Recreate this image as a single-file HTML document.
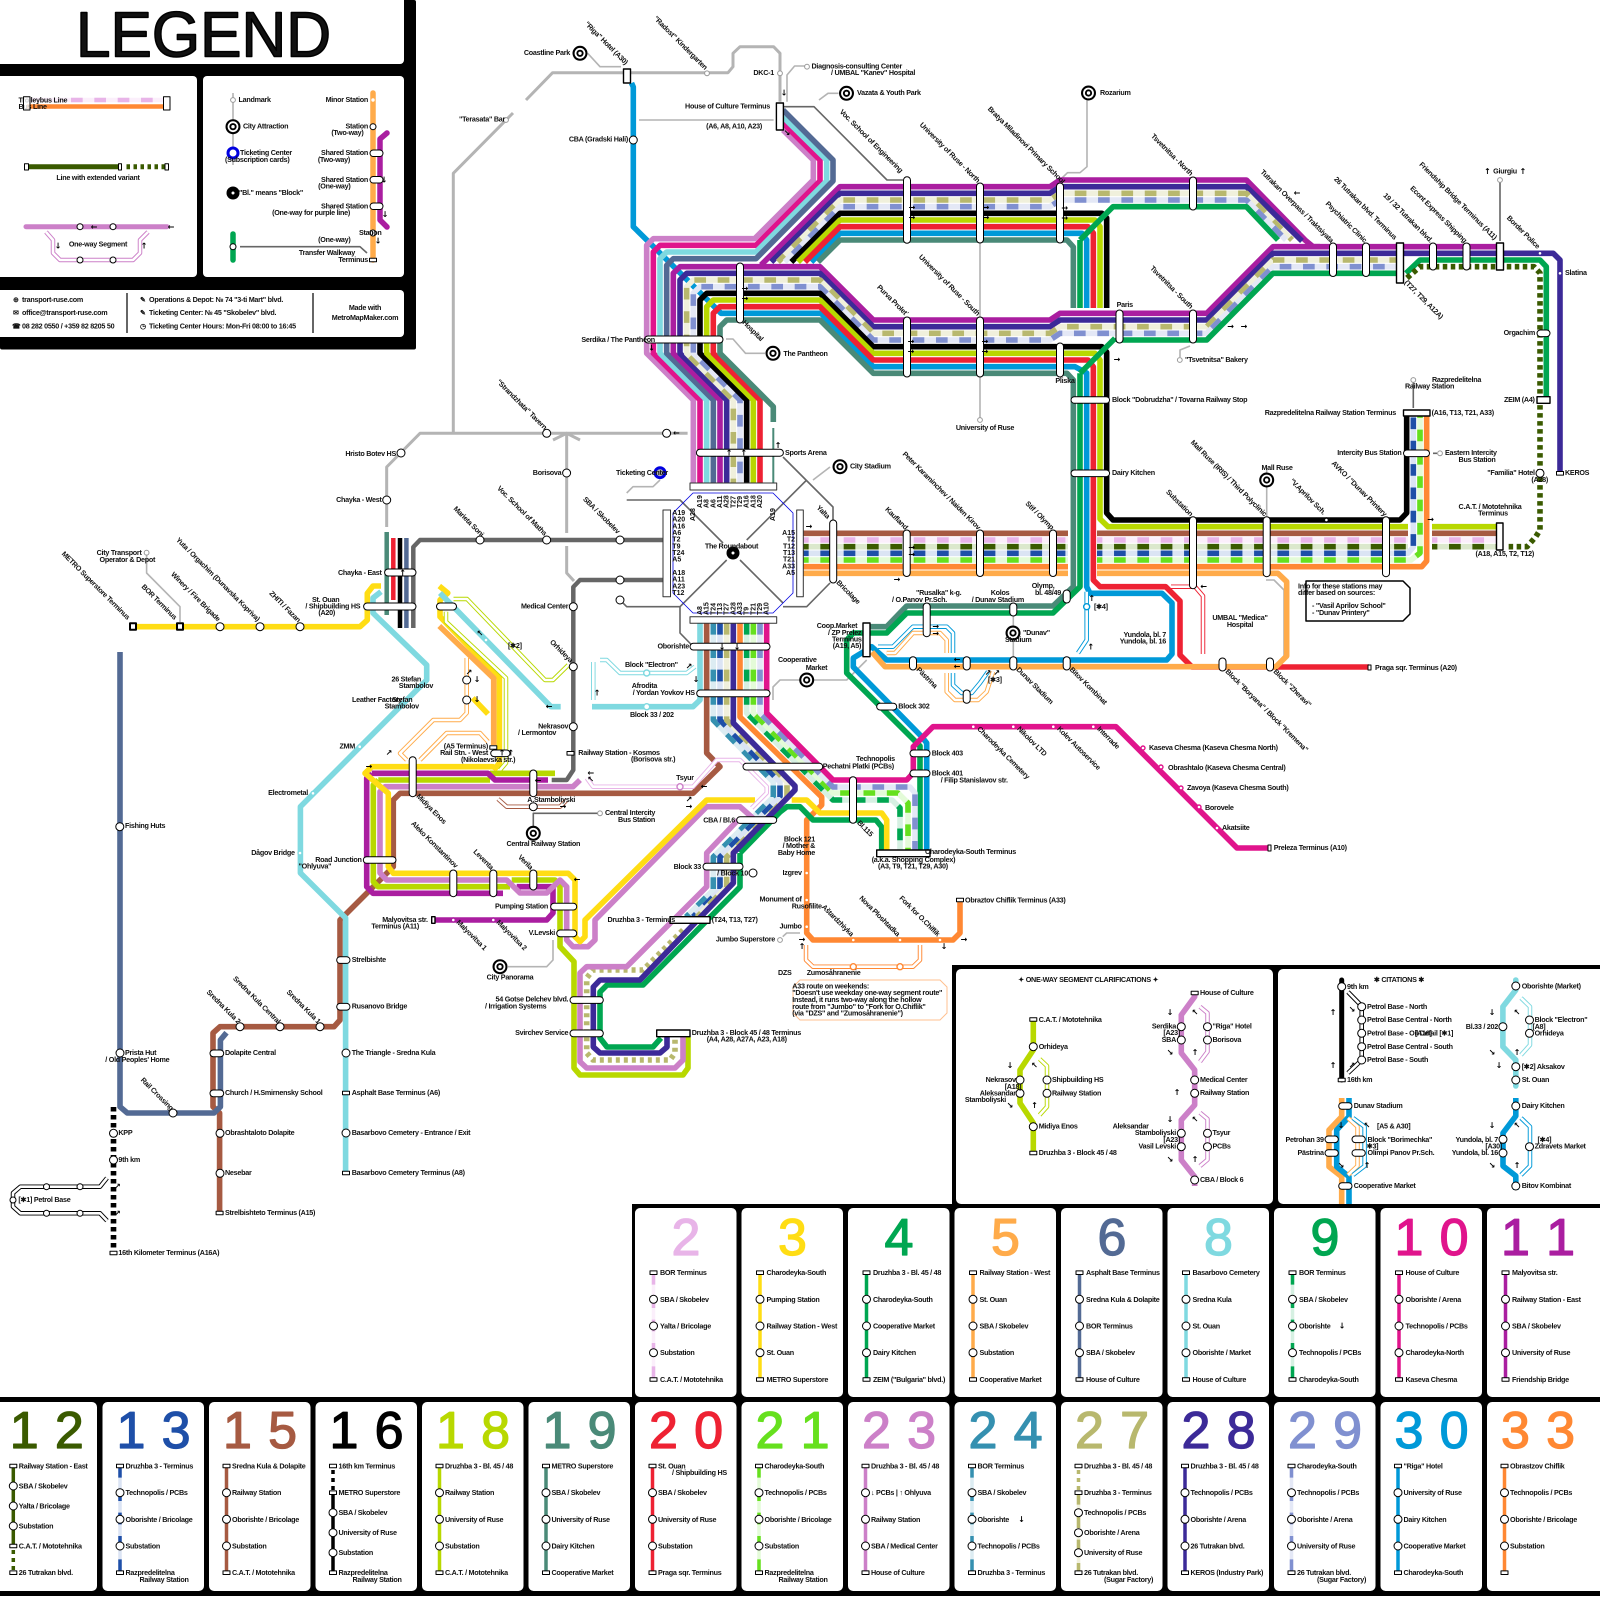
<!DOCTYPE html>
<html><head><meta charset="utf-8"><style>
html,body{margin:0;padding:0;background:#fff}
svg{display:block}
text{font:bold 7.2px "Liberation Sans",sans-serif;fill:#111;stroke:none;letter-spacing:-.27px}
.e{text-anchor:end}.m{text-anchor:middle}
.r{font-weight:bold;font-size:7px;letter-spacing:0}
.big{font-size:52px;font-weight:normal;text-anchor:middle;fill:currentColor;stroke:currentColor;stroke-width:1.3;letter-spacing:0}
.ar{font:bold 8px "DejaVu Sans",sans-serif;text-anchor:middle;fill:#000;letter-spacing:0}
.l path,path{fill:none}
.a2{stroke:#e8b4e8}.a3{stroke:#ffdd14}.a4{stroke:#00a651}.a5{stroke:#ffab4a}.a6{stroke:#536a94}.a8{stroke:#7fd9e0}.a9{stroke:#00a651}.a10{stroke:#e0148c}.a11{stroke:#aa1ea0}.a12{stroke:#3a5a00}.a13{stroke:#1e4fa8}.a15{stroke:#a65a42}.a16{stroke:#000}.a18{stroke:#b8d800}.a19{stroke:#4a8a78}.a20{stroke:#ee2233}.a21{stroke:#66e01e}.a23{stroke:#cc80c8}.a24{stroke:#3590b0}.a27{stroke:#b8b86e}.a28{stroke:#3c2a98}.a29{stroke:#8090d0}.a30{stroke:#0099d8}.a33{stroke:#ff8833}.g{stroke:#b4b4b4}.dg{stroke:#666}
.d{stroke-dasharray:11.67 11.67}
.b2{stroke:#fbeffb}.b9{stroke:#d6f0e2}.b12{stroke:#dbe8cc}.b13{stroke:#dbe4f4}.b21{stroke:#e4fbd8}.b24{stroke:#dcecf2}.b27{stroke:#f0f0dc}.b29{stroke:#e4e8f6}
.h{stroke-width:4.5}.hw{stroke:#fff;stroke-width:2.6}
.t1{stroke-width:1.6}.t2{stroke-width:2.2}
.c{fill:#fff;stroke:#000;stroke-width:1}
.t{fill:#fff;stroke:#000;stroke-width:1.4}
.o1{stroke-dashoffset:6.3}
</style></head><body>
<svg xmlns="http://www.w3.org/2000/svg" width="1600" height="1600" viewBox="0 0 1600 1600" fill="none" stroke-width="5.6" stroke-linejoin="round">
<defs>
<circle id="s" r="4" fill="#fff" stroke="#000" stroke-width="1"/>
<circle id="sm" r="3" fill="#fff" stroke="#000" stroke-width="1"/>
<circle id="lm" r="2.4" fill="#fff" stroke="#999" stroke-width="1"/>
<g id="tg"><circle r="7.5" fill="#000"/><circle r="5.4" fill="#fff"/><circle r="3.6" fill="#000"/><circle r="1.7" fill="#fff"/></g>
<rect id="tm" x="-3.5" y="-1.8" width="7" height="3.6" fill="#fff" stroke="#000" stroke-width="1"/>
<path id="p27a" d="M733.33 483V400L686.67 353.3V286.67L693.3 280H820L873.3 333.3H1050L1060 326.67H1206.7L1273 260H1400"/>
<path id="p29a" d="M740 483V400L693.3 353.3V293.3L700 286.67H820L873.3 340H1050L1060 333.3H1206.7L1273 266.67H1400"/>
<path id="p27b" d="M778 262L840 200H1050L1060 193.3H1246.4L1292 240"/>
<path id="p29b" d="M784.7 262L840 206.67H1050L1060 200H1246.4L1286 240"/>
<path id="p24" d="M713.3 623V720L773.3 782V797L713.3 857V890L686 917"/>
<path id="p13" d="M720 623V720L780 782V797L720 857V890L693 917"/>
<path id="p27c" d="M726.67 623V720L787 782V797L726.67 857V887L697 917"/>
<path id="p9" d="M746.67 623V713L833 800H892L900 808V850"/>
<path id="p21" d="M753.33 623V713L833 793H898L908 803V850"/>
<path id="p29c" d="M760 623V713L833 787H910L915 793V850"/>
<path id="h2a" d="M803.3 540H1068M1097 540H1408M1432 540H1499"/>
<path id="h12" d="M803.3 546.67H1068M1097 546.67H1408M1432 546.67H1499"/>
<path id="h13" d="M803.3 553.33H1068M1097 553.33H1408L1413.33 547V416"/>
<path id="h21" d="M803.3 560H1068M1097 560H1411L1420 553V416"/>
<g id="r1"><use href="#tm" x="18.5" y="1272.7"/><use href="#s" x="18.5" y="1299.3"/><use href="#s" x="18.5" y="1326"/><use href="#s" x="18.5" y="1352.7"/><use href="#tm" x="18.5" y="1379.5"/></g>
<g id="r2"><use href="#tm" x="17.5" y="1466"/><use href="#s" x="17.5" y="1492.7"/><use href="#s" x="17.5" y="1519.3"/><use href="#s" x="17.5" y="1546"/><use href="#tm" x="17.5" y="1572.7"/></g>
<g id="r3"><use href="#tm" x="17.5" y="1466"/><use href="#tm" x="17.5" y="1492.7"/><use href="#s" x="17.5" y="1512.7"/><use href="#s" x="17.5" y="1532.7"/><use href="#s" x="17.5" y="1552.7"/><use href="#tm" x="17.5" y="1572.7"/></g>
</defs>

<!-- Legend frame -->
<rect x="0" y="0" width="416" height="349.5" rx="2" fill="#000"/>
<rect x="-6" y="-6" width="410" height="70" rx="4" fill="#fff"/>
<rect x="-6" y="76" width="203" height="201" rx="4" fill="#fff"/>
<rect x="203" y="76" width="201" height="201" rx="4" fill="#fff"/>
<rect x="-6" y="290" width="410" height="47" rx="4" fill="#fff"/>
<text x="76" y="56.5" textLength="255" lengthAdjust="spacingAndGlyphs" style="font-size:64px;font-weight:normal;stroke:#000;stroke-width:1.6;letter-spacing:0">LEGEND</text>

<path class="b2 h" d="M27 100H165"/><path class="a2 h d" d="M71 100H155"/>
<path stroke="#ff8833" stroke-width="4.5" d="M27 106.5H165"/>
<text x="18.5" y="102.3">Trolleybus Line</text><text x="18.5" y="108.8">Bus Line</text>
<rect x="23.5" y="96.7" width="6.5" height="13.3" class="c" fill-opacity=".8"/><rect x="163.5" y="96.7" width="6.5" height="13.3" class="c"/>
<path class="a12" stroke-width="5" d="M27 166.7H120"/><path class="a12" stroke-width="5" stroke-dasharray="3.5 3.5" d="M126.5 166.7H165"/>
<rect x="24.5" y="163.7" width="4" height="6.3" class="c"/><rect x="118.5" y="163.7" width="3" height="6.3" class="c"/><rect x="165" y="163.7" width="3.5" height="6.3" class="c"/>
<text x="98" y="180" class="m">Line with extended variant</text>
<path class="a23" stroke-linecap="round" stroke-width="5" d="M26 226.7H167"/>
<path class="a23 h" d="M46 232L53 240V253L60 260H133L140 253V240L148 232"/><path class="hw" d="M46 232L53 240V253L60 260H133L140 253V240L148 232"/>
<use href="#sm" x="80" y="226.7"/><use href="#sm" x="113" y="226.7"/><use href="#sm" x="80" y="260"/><use href="#sm" x="113" y="260"/>
<text x="98" y="246.5" class="m">One-way Segment</text>
<text class="ar" x="94" y="229.5">←</text><text class="ar" x="171" y="229.5">←</text><text class="ar" x="58" y="248.5">↓</text><text class="ar" x="144" y="248.5">↑</text>

<path class="g" stroke-width="1.6" d="M233 93V165"/><use href="#lm" x="233" y="100"/><text x="238.5" y="102">Landmark</text>
<use href="#tg" x="233" y="126.7"/><text x="243" y="128.5">City Attraction</text>
<circle cx="233" cy="153" r="5" fill="#fff" stroke="#0000e0" stroke-width="3"/><text x="240" y="155">Ticketing Center</text><text x="225" y="161.8">(Subscription cards)</text>
<circle cx="233" cy="193" r="6.5" fill="#000"/><circle cx="233" cy="193" r="1.5" fill="#fff"/><text x="239" y="195">"Bl." means "Block"</text>
<path class="a4" stroke-linecap="round" stroke-width="5.5" d="M233 234V260"/><use href="#sm" x="233" y="246.7"/>
<path class="dg t1" d="M240 246.7H360L367 253"/>
<path class="a5" stroke-linecap="round" stroke-width="5.5" d="M373 93V260"/>
<path class="a11" stroke-linecap="round" stroke-width="5.5" d="M387 133L380 139V220L387 227"/>
<circle cx="373" cy="100" r="1.7" fill="#fff"/><use href="#sm" x="373" y="126.7"/>
<rect x="370" y="150" width="13" height="6.5" rx="3.2" class="c"/><rect x="370" y="176.5" width="13" height="6.5" rx="3.2" class="c"/><rect x="370" y="203" width="13" height="6.5" rx="3.2" class="c"/>
<use href="#sm" x="373" y="233"/><use href="#tm" x="373" y="260"/>
<text class="e" x="368" y="102">Minor Station</text><text class="e" x="368" y="128.5">Station</text><text class="e" x="363.5" y="135">(Two-way)</text>
<text class="e" x="368" y="155">Shared Station</text><text class="e" x="350" y="161.8">(Two-way)</text>
<text class="e" x="368" y="181.8">Shared Station</text><text class="e" x="350.5" y="188.5">(One-way)</text>
<text class="e" x="368" y="208.5">Shared Station</text><text class="e" x="350" y="215.2">(One-way for purple line)</text>
<text x="359" y="235">Station</text><text class="e" x="350.5" y="241.8">(One-way)</text>
<text class="e" x="355" y="255">Transfer Walkway</text><text class="e" x="368" y="261.8">Terminus</text>
<text class="ar" x="384" y="182.5">↓</text><text class="ar" x="385" y="217">↓</text><text class="ar" x="378" y="243.5">↓</text>

<path stroke="#000" stroke-width="1.2" d="M127 293V333M313 293V333"/>
<text x="22" y="302">transport-ruse.com</text><text x="22" y="315">office@transport-ruse.com</text><text x="22" y="328.5">08 282 0550 / +359 82 8205 50</text>
<text x="13" y="302" class="r">⊕</text><text x="13" y="315" class="r">✉</text><text x="12" y="328.5" class="r">☎</text>
<text x="149" y="302">Operations &amp; Depot: № 74 "3-ti Mart" blvd.</text><text x="149" y="315">Ticketing Center: № 45 "Skobelev" blvd.</text><text x="149" y="328.5">Ticketing Center Hours: Mon-Fri 08:00 to 16:45</text>
<text x="140" y="302" class="r">✎</text><text x="140" y="315" class="r">✎</text><text x="140" y="328.5" class="r">◷</text>
<text class="m" x="365" y="310">Made with</text><text class="m" x="365" y="320">MetroMapMaker.com</text>

<!-- gray -->
<g class="g" stroke-width="3">
<path d="M526 100L552.6 72.7H728L733 66.7V53.3L740 46.7H773.6L780 53.3V101.7"/>
<path d="M513 113L453.3 173.3V420L453.3 433.3H687.6M453.3 433.3H420L386.67 467V527"/>
<path d="M566.67 433.3V533M566.67 546V573L574 581"/>
<path d="M553 440L566.67 433.3L580 440"/>
</g>
<path class="dg" stroke-width="4.5" d="M413.3 628V547L420 540H663"/>
<path class="dg" stroke-width="4.5" d="M663 580H580L573.3 587V770L566.7 780H551.7"/>
<g class="g t1">
<path d="M587.7 53.3L600 66.7H621M819 100L828 93.3H838.5M639 120H773.6M787 101.7V75L794.6 66H805"/>
<path d="M1087 100V166.7L1080 172.7H1067.5L1062 178"/>
<path d="M980 243V317M980 377V420"/>
<path d="M726 339H733L745.5 353.3H765"/>
<path d="M626.7 493L633 486.7H653L660 480"/>
<path d="M813 480L830 467"/>
<path d="M773 700V687L780 680H846.7L866.7 660"/>
<path d="M146.6 555V573L180 606.7V622"/>
<path d="M508 966.7H546.7L553 960V940"/>
<path d="M782.7 936.7L786.7 933H800"/>
<path d="M1180 357V350L1190 346"/>
<path d="M1266 580H1274L1284 590V656L1276 664"/>
<path d="M1013.3 616V660M1266.7 470V516"/>
</g>
<path class="dg t1" d="M783 106.7H814L887 180H903"/>
<path class="dg t1" d="M783 457L833 507V520M830 583L806.7 606.7H783M626.7 500H680L723 543M746.7 540L806.7 480M726.7 560L680 606.7V633L691.7 645M740 560L783 603M620 600L626.7 606.7H680"/>
<path class="dg t1" d="M1500 180V241M1413.3 380V408M1433 453.3H1437M533.3 833V813.3H600"/>

<!-- blue octagon and A30 first (passes beneath other lines) -->
<path stroke="#0000e0" stroke-width=".8" d="M693 493H773L793 513V593L773 613H693L673 593V513Z"/>
<path class="a30" d="M631.5 83L633.3 87V226.7L721 313.3H821L873.3 366.7H1075L1086.67 373V586.7L1090 593.3H1162L1172 603V654L1166.67 660H886.7L871.7 646.7L853.3 658V667L921.7 736.7L926.7 743V850"/>
<path class="a30" d="M811.3 262L840 233.3H1082L1086.67 240V308"/>

<!-- main bundles -->
<path class="a23" d="M783 130L813.33 160V180L754.6 238.7H653.33L646.67 245.3V353.3L693.33 400V483"/>
<path class="a10" d="M783 123L820 160V181L756 245.3H660L653.33 252V353.3L700 400V483"/>
<path class="a8" d="M783 117L826.67 160V181L756 252H666.67L660 258.7V353.3L706.67 400V483"/>
<path class="a6" d="M783 110L833 160V181L756 258.7H673.3L666.67 265.3V353.3L713.33 400V483"/>
<path class="a11" d="M761 265L840 186.67H1050L1060 180H1246.4L1305 240L1313 246.7H1500"/>
<path class="a28" d="M771.3 262L840 193.3H1050L1060 186.7H1246.4L1302 241"/>
<path class="a11" d="M720 483V400L673.3 353.3V273.3L680 266.7H820L873.3 320H1050L1060 313.3H1206.7L1273 246.7H1320"/>
<path class="a28" d="M726.67 483V400L680 353.3V280L686.67 273.3H820L873.3 326.67H1050L1060 320H1206.7L1273 253.3H1553.3L1560 260V473"/>
<g>
<use href="#p27a" class="b27"/><use href="#p27a" class="a27 d" style="stroke-dashoffset:7.3"/><use href="#p29a" class="b29"/><use href="#p29a" class="a29 d" style="stroke-dashoffset:13.6"/>
<use href="#p27b" class="b27"/><use href="#p27b" class="a27 d" style="stroke-dashoffset:2.3"/><use href="#p29b" class="b29"/><use href="#p29b" class="a29 d" style="stroke-dashoffset:11.8"/>
</g>
<path class="a16" d="M791.3 262L840 213.3H1102L1106.67 218V308"/>
<path class="a18" d="M798 262L840 220H1095L1100 226.7V308"/>
<path class="a20" d="M805 262L840 226.67H1088L1093.33 233V308"/>
<path class="a19" d="M818 262L840 240H1067L1073.33 247V308"/>
<path class="a16" d="M746.67 483V400L700 353.3V300L706.67 293.3H820L873.3 346.67H1102L1106.67 352V513L1113 520H1400L1406.67 513V416"/>
<path class="a18" d="M753.33 483V400L706.67 353.3V306.67L713.3 300H820L873.3 353.3H1095L1100 360V519L1108 526.67H1408M1432 526.67H1499"/>
<path class="a20" d="M760 483V400L713.3 353.3V313.3L720 306.67H820L873.3 360H1088L1093.33 366.7V580L1100 586.67H1165.7L1180 601V655L1192 667H1369"/>
<path class="a19" d="M773.3 422V406.7L720 353.3V326.67L726.67 320H820L873.3 373.3H1067L1073.33 380V586.67L1053 606H906.7L886.7 626.7H870"/>
<path class="a19" stroke-width="2" d="M773.3 428V483"/>
<path class="a4" d="M1080 240L1113 206.7H1246.4L1278 240"/>
<path class="a4" d="M1080 308V240"/>
<path class="a4" d="M1115 338.3L1118 340H1206.7L1273 273.3H1400M1080 373.3L1115 338.3M1080 373.3V586.7L1053 613H906.7L886.7 633H853.3L846.7 640V673L920 746V850"/>
<path class="a4" d="M1406 273.3L1420 260H1540L1546.3 266.7V397"/>
<path class="a12" stroke-dasharray="4.5 3.5" d="M1407 278L1420 266.7H1534L1540 273V530L1535.8 536.7L1527 546.7H1506"/>

<!-- horizontal bundle to east -->
<path class="a15" d="M803.3 533.3H1068M1097 533.3H1408M1432 533.3H1499"/>
<use href="#h2a" class="b2"/><use href="#h2a" class="a2 d o1"/><use href="#h12" class="b12"/><use href="#h12" class="a12 d o1"/><use href="#h13" class="b13"/><use href="#h13" class="a13 d o1"/><use href="#h21" class="b21"/><use href="#h21" class="a21 d o1"/>
<path class="a33" d="M803.3 566.67H1068M1097 566.67H1421.8L1426.67 561V416"/>
<path class="a5" d="M803.3 573.33H1068M1097 573.33H1278L1286.67 581.7V656L1276 666.67H885L872 652"/>

<!-- south of roundabout -->
<path class="a8" d="M700 623V700L693 706.7H592"/>
<path class="a15" d="M706.67 623V753L720 766.67L693 793.3H400L393.3 800V866.7L340 920V1020L334 1026.7H220L213 1033V1106.7L219.6 1113V1213"/>
<use href="#p24" class="b24"/><use href="#p24" class="a24 d"/><use href="#p13" class="b13"/><use href="#p13" class="a13 d"/><use href="#p27c" class="b27"/><use href="#p27c" class="a27 d"/>
<path class="a27" stroke-dasharray="4 4" d="M683 930L643 970H593L586.7 978V1053L593 1060H670L675 1053V1038"/>
<path class="a33" d="M740 623V717L821.7 797V805L806.7 820V933L813 940H953L960 933V900"/>
<use href="#p9" class="b9"/><use href="#p9" class="a9 d"/><use href="#p21" class="b21"/><use href="#p21" class="a21 d"/><use href="#p29c" class="b29"/><use href="#p29c" class="a29 d"/>
<path class="a10" d="M766.67 623V713L833 780H906.7L913.3 773V746.7L933 726.7H1116L1237 848H1268"/>
<path class="a4" d="M740 853L780 812L787 806.7H800L813 820H876L881.7 827V850M740 853V887L643 985H607L600 992V1038L607 1047H653L661 1038"/>
<path class="a28" d="M733.33 623V723L795 786V790L733.33 853V883L640 980H600L593.3 987V1047L600 1053H660L667 1047V1037"/>
<path class="a18" d="M378.3 780H490M490 773.3H555M378.3 780L373.3 785V881.7L378 886.7H510M511.7 880H555L560 886.7V946.7L574 961.7V1068L580 1075H683L688 1068V1037"/>
<path class="a11" d="M371.7 773.3H488L495 780H548M371.7 773.3L366.7 778V886.7L373 893.3H503M516.7 886.7H553V913L546.7 920H433.3"/>
<path class="a23" d="M580 780L573 786.7H385L380 791.7V873L386.7 880H506.7L520 893H546.7L560 880L566.7 886.7V940L573 946.7H588L595 940V920L706.7 806.7H740L755 820"/>
<path class="a23" d="M738 820L706.7 853V886.7L626.7 966.7H586.7L580 973V1061.7L586.7 1068H675L683 1060V1037"/>
<path class="a3" d="M133 626.7H360L367.3 620V593.3L373 586H381M439.3 586L447.8 593L440 600V616.7L499.4 678V763L495.6 768L493 766.7H371.7L365 773.3L388.3 793.3V866.7L393.3 873.3H568.3L575 880V936.7L580 941.7L585 936.7V920L706.7 800H755M791.7 800H806.7L820 813H881.7L886.7 820V850M472.7 698L488 714"/>
<path class="a5" d="M439.3 626L493.7 678.3V745"/>
<path class="a8" d="M381 591.7L373 598V613L426.7 665V680L300.4 806.7V873L345.6 918V1173"/>
<path class="a8" d="M440 593L551 706.7H560.7"/>
<path class="a6" d="M120 652V1106.7L127.3 1113H214L220.4 1106.7V1040L226.5 1032.7"/>
<path class="a16" stroke-dasharray="4.5 3.5" d="M113.5 1107V1252"/>
<path class="a19" stroke-width="4.5" d="M386.7 532V615"/><path class="a20" stroke-width="4.5" d="M393.3 538V600"/><path class="a16" stroke-width="4.5" d="M400 538V628"/><path class="a6" stroke-width="4.5" d="M406.4 538V628"/>

<!-- hollow segments -->
<g class="h">
<path class="a2" d="M586.7 778L593 786.7H693L716.7 760H740L766.7 786.7V793L751.7 808"/>
<path class="a15" d="M498 799L506.7 806.7H560L566.7 800"/>
<path class="a5" d="M466.7 658V713L460 720H433.3L400 753.3L406.7 760M420 760L446.7 733H480L488 741.7"/>
<path class="a18" d="M446 611.7V621.7L506 678V763L500 770M453.5 599H467L545 680H553L568.3 665"/>
<path class="a8" d="M600 660H606.7L620 673H686.7L695 666.7M593.3 662V700"/>
<path class="a30" d="M878 646.7H893L913 626.7H946.7L953 633V653M953 673V685L961.7 693H971.7L980 683L988 671.7"/>
<path class="a5" d="M886.7 653H895L913 633H940L946.7 640V653M946.7 673V691.7L955 700H978L986.7 691.7L993 671.7"/>
<path class="a30" d="M1086.67 591.7V640L1078 653"/>
<path class="a33" d="M806 945V960L813 966.7H913L920 960V945"/>
<path class="a20" d="M1171 586.7H1195L1203 596V654"/>
<path class="a16" d="M107 1178L100 1186.7H20.4L13 1193V1206.7L20.4 1213.3H100L107 1220.7"/>
</g>
<g class="hw">
<path d="M586.7 778L593 786.7H693L716.7 760H740L766.7 786.7V793L751.7 808"/>
<path d="M498 799L506.7 806.7H560L566.7 800"/>
<path d="M466.7 658V713L460 720H433.3L400 753.3L406.7 760M420 760L446.7 733H480L488 741.7"/>
<path d="M446 611.7V621.7L506 678V763L500 770M453.5 599H467L545 680H553L568.3 665"/>
<path d="M600 660H606.7L620 673H686.7L695 666.7M593.3 662V700"/>
<path d="M878 646.7H893L913 626.7H946.7L953 633V653M953 673V685L961.7 693H971.7L980 683L988 671.7"/>
<path d="M886.7 653H895L913 633H940L946.7 640V653M946.7 673V691.7L955 700H978L986.7 691.7L993 671.7"/>
<path d="M1086.67 591.7V640L1078 653"/>
<path d="M806 945V960L813 966.7H913L920 960V945"/>
<path d="M1171 586.7H1195L1203 596V654"/>
<path d="M107 1178L100 1186.7H20.4L13 1193V1206.7L20.4 1213.3H100L107 1220.7"/>
</g>

<!-- boxes -->
<g fill="#fff" stroke="#333" stroke-width="1">
<rect x="690" y="483" width="86.7" height="7"/><rect x="690" y="616.7" width="86.7" height="6.6"/><rect x="663" y="510" width="7.5" height="86.7"/><rect x="796.7" y="510" width="6.6" height="86.7"/>
</g>
<g class="t">
<rect x="623.5" y="69" width="7" height="14"/><rect x="776.4" y="103" width="7" height="27"/><rect x="1396.5" y="243" width="7" height="40"/><rect x="1496.5" y="243" width="7" height="27"/>
<rect x="1403.5" y="410" width="26.5" height="6"/><rect x="1496.5" y="523" width="6.5" height="27"/><rect x="863" y="623" width="7" height="33.7"/><rect x="876.7" y="850" width="53.3" height="6.7"/>
<rect x="670" y="916.7" width="40" height="6.6"/><rect x="656.7" y="1030" width="33.3" height="6.7"/><rect x="431.7" y="916.7" width="3.3" height="6.6"/><rect x="1537" y="396.7" width="13" height="6.6"/>
</g>
<g fill="#fff" stroke="#000" stroke-width="2"><rect x="130" y="623.2" width="6" height="6.6"/><rect x="177" y="623.2" width="6" height="6.6"/></g>
<g class="c">
<rect x="903.5" y="176.7" width="7" height="66.6" rx="3.5"/><rect x="976.5" y="183" width="7" height="60" rx="3.5"/><rect x="1056.5" y="183" width="7" height="60" rx="3.5"/><rect x="1189.5" y="177" width="7" height="33" rx="3.5"/>
<rect x="903.5" y="317" width="7" height="60" rx="3.5"/><rect x="976.5" y="317" width="7" height="60" rx="3.5"/><rect x="1056.5" y="343" width="7" height="34" rx="3.5"/><rect x="1116" y="310" width="7" height="33" rx="3.5"/><rect x="1189.5" y="310" width="7" height="33" rx="3.5"/>
<rect x="736.5" y="263" width="7" height="60" rx="3.5"/>
<rect x="644.5" y="336" width="78.5" height="7" rx="3.5"/><rect x="696.4" y="449.2" width="87" height="7" rx="3.5"/>
<rect x="1329.5" y="243" width="7" height="33.5" rx="3.5"/><rect x="1362.5" y="243" width="7" height="33.5" rx="3.5"/><rect x="1429.5" y="243" width="7" height="27" rx="3.5"/><rect x="1463" y="243" width="7" height="27" rx="3.5"/>
<rect x="1537" y="330" width="13" height="6.6" rx="3.3"/>
<rect x="1071" y="396.7" width="38.6" height="6.6" rx="3.3"/><rect x="1071" y="470" width="38.6" height="6.6" rx="3.3"/><rect x="1403.5" y="450" width="26" height="6.6" rx="3.3"/>
<rect x="829.7" y="520" width="7" height="63" rx="3.5"/><rect x="903.2" y="530" width="7" height="46.5" rx="3.5"/><rect x="976.5" y="530" width="7" height="46.5" rx="3.5"/><rect x="1049.5" y="530" width="7" height="46.5" rx="3.5"/>
<rect x="1189.5" y="516.7" width="7" height="72" rx="3.5"/><rect x="1263.2" y="516.7" width="7" height="60" rx="3.5"/><rect x="1382.5" y="516.7" width="7" height="60" rx="3.5"/>
<rect x="690" y="643.3" width="80" height="6.7" rx="3.3"/><rect x="696.7" y="690" width="73.3" height="6.7" rx="3.3"/><rect x="743" y="763.3" width="79.7" height="6.7" rx="3.3"/><rect x="849.5" y="776.7" width="7" height="46.6" rx="3.5"/>
<rect x="736.7" y="816.7" width="40" height="6.7" rx="3.3"/><rect x="703" y="863.3" width="40" height="6.7" rx="3.3"/>
<rect x="910" y="750" width="20" height="6.7" rx="3.3"/><rect x="910" y="770" width="20" height="6.7" rx="3.3"/><rect x="876.7" y="703.3" width="20" height="6.7" rx="3.3"/>
<rect x="923.2" y="603" width="7" height="33.7" rx="3.5"/><rect x="1009.8" y="603" width="7" height="13" rx="3.5"/><rect x="1063.2" y="590" width="7" height="13" rx="3.5"/>
<rect x="909.5" y="656.7" width="7" height="13.3" rx="3.5"/><rect x="963.2" y="656.7" width="7" height="13.3" rx="3.5"/><rect x="1009.8" y="656.7" width="7" height="13.3" rx="3.5"/><rect x="1063.2" y="656.7" width="7" height="13.3" rx="3.5"/><rect x="963.2" y="690" width="7" height="13.3" rx="3.5"/>
<rect x="1219" y="658" width="7" height="13" rx="3.5"/><rect x="1266.5" y="658" width="7" height="13" rx="3.5"/>
<rect x="384.6" y="569" width="31.4" height="7" rx="3.5"/><rect x="363.6" y="603" width="52.4" height="7" rx="3.5"/><rect x="436.5" y="603" width="20" height="7" rx="3.5"/>
<rect x="490.7" y="750" width="19.3" height="6.6" rx="3.3"/><rect x="409.2" y="756.7" width="7" height="40" rx="3.5"/><rect x="363.3" y="856.7" width="32.7" height="6.6" rx="3.3"/><rect x="529.8" y="770" width="7" height="26.7" rx="3.5"/>
<rect x="449.8" y="870" width="7" height="26.7" rx="3.5"/><rect x="489.8" y="870" width="7" height="26.7" rx="3.5"/><rect x="529.8" y="870" width="7" height="20" rx="3.5"/>
<rect x="550.7" y="903.3" width="26" height="6.7" rx="3.3"/><rect x="556.7" y="930" width="20" height="6.7" rx="3.3"/><rect x="570" y="996.7" width="33.3" height="6.7" rx="3.3"/><rect x="570" y="1030" width="33.3" height="6.7" rx="3.3"/>
<rect x="336.7" y="956.7" width="13.3" height="6.7" rx="3.3"/><rect x="336.7" y="1003.4" width="13.3" height="6.7" rx="3.3"/><rect x="210" y="1050" width="13.7" height="6.7" rx="3.3"/><rect x="210" y="1090" width="13.7" height="6.7" rx="3.3"/>
</g>
<use href="#tm" x="570.5" y="753.3"/><use href="#tm" x="493.3" y="747.5"/><use href="#tm" x="346" y="1093"/><use href="#tm" x="346" y="1173"/><use href="#tm" x="219.6" y="1213"/><use href="#tm" x="113.5" y="1253"/><use href="#tm" x="960" y="900"/><use href="#tm" x="1560" y="473.3"/><rect x="1368" y="665" width="3" height="5" class="c"/><rect x="1268" y="845" width="3" height="6" class="c"/>

<!-- stations -->
<g>
<use href="#s" x="633.3" y="140"/><use href="#lm" x="506" y="120"/><use href="#lm" x="707" y="73.3"/><use href="#lm" x="780" y="73.3"/><use href="#lm" x="807" y="66.7"/><use href="#lm" x="980" y="420"/><use href="#lm" x="1179.8" y="360"/><use href="#lm" x="1413.3" y="380"/><use href="#lm" x="1440" y="453.3"/><use href="#lm" x="1500" y="180"/><use href="#lm" x="146.6" y="552.7"/><use href="#lm" x="780" y="940"/><use href="#lm" x="600" y="813.3"/>
<use href="#s" x="546.7" y="433.3"/><use href="#s" x="666.6" y="433.3"/><use href="#s" x="566.6" y="473"/><use href="#s" x="401" y="453"/><use href="#s" x="386.7" y="500"/>
<use href="#s" x="480" y="540"/><use href="#s" x="546.67" y="540"/><use href="#s" x="620" y="540"/><use href="#s" x="620" y="580"/><use href="#s" x="620" y="600"/>
<use href="#s" x="573.3" y="606.7"/><use href="#s" x="573.3" y="666.7"/><use href="#s" x="573.3" y="726.7"/>
<use href="#s" x="220" y="626.7"/><use href="#s" x="260" y="626.7"/><use href="#s" x="300" y="626.7"/>
<use href="#s" x="119.8" y="826.7"/><use href="#s" x="120" y="1053"/><use href="#s" x="173" y="1113"/><use href="#s" x="240" y="1026.7"/><use href="#s" x="280" y="1026.7"/><use href="#s" x="320" y="1026.7"/><use href="#s" x="220" y="1133.3"/><use href="#s" x="220" y="1173.3"/><use href="#s" x="346" y="1053"/><use href="#s" x="346" y="1133"/>
<use href="#s" x="113.5" y="1133.3"/><use href="#s" x="113.5" y="1160"/><use href="#sm" x="46.5" y="1186.7"/><use href="#sm" x="80" y="1186.7"/><use href="#sm" x="46.5" y="1213.3"/><use href="#sm" x="80" y="1213.3"/><use href="#sm" x="13" y="1200"/>
<use href="#s" x="466.7" y="680"/><use href="#s" x="466.7" y="700"/><use href="#s" x="533.3" y="806.7"/><use href="#s" x="753" y="873"/>
<use href="#s" x="1540" y="473.3"/>
</g>
<g fill="#fff" stroke-width="1.4">
<circle cx="1560" cy="273.3" r="2" stroke="#3c2a98"/><circle cx="1540" cy="253.3" r="2" stroke="#3c2a98"/><circle cx="1326.4" cy="520" r="2" stroke="#000"/>
<circle cx="486" cy="640" r="2" stroke="#7fd9e0"/><circle cx="359.7" cy="746.7" r="2" stroke="#7fd9e0"/><circle cx="313" cy="793.3" r="2" stroke="#7fd9e0"/><circle cx="300" cy="853" r="2" stroke="#7fd9e0"/><circle cx="406" cy="700" r="2" stroke="#7fd9e0"/>
<circle cx="453.3" cy="920" r="2" stroke="#aa1ea0"/><circle cx="493.3" cy="920" r="2" stroke="#aa1ea0"/>
<circle cx="973.3" cy="726.7" r="2" stroke="#e0148c"/><circle cx="1013.3" cy="726.7" r="2" stroke="#e0148c"/><circle cx="1053.3" cy="726.7" r="2" stroke="#e0148c"/><circle cx="1093.3" cy="726.7" r="2" stroke="#e0148c"/><circle cx="1143" cy="748" r="2" stroke="#e0148c"/><circle cx="1161" cy="767" r="2" stroke="#e0148c"/><circle cx="1181" cy="788" r="2" stroke="#e0148c"/><circle cx="1199" cy="807" r="2" stroke="#e0148c"/><circle cx="1217" cy="828" r="2" stroke="#e0148c"/>
<circle cx="806.7" cy="873" r="2" stroke="#ff8833"/><circle cx="806.7" cy="900" r="2" stroke="#ff8833"/><circle cx="806.7" cy="926.7" r="2" stroke="#ff8833"/><circle cx="853.3" cy="940" r="2" stroke="#ff8833"/><circle cx="900" cy="940" r="2" stroke="#ff8833"/><circle cx="940" cy="940" r="2" stroke="#ff8833"/>
<circle cx="853.3" cy="966.7" r="3" stroke="#ff8833"/><circle cx="900" cy="966.7" r="3" stroke="#ff8833"/>
<circle cx="680" cy="786.7" r="3" stroke="#cc80c8"/>
<circle cx="646.7" cy="673" r="3" stroke="#7fd9e0"/><circle cx="646.7" cy="706.7" r="3" stroke="#7fd9e0"/>
<circle cx="1086.67" cy="606.7" r="3" stroke="#0099d8"/>
</g>
<g>
<use href="#tg" x="580" y="53.3"/><use href="#tg" x="846.5" y="93.3"/><use href="#tg" x="1088.5" y="93"/><use href="#tg" x="773" y="353.3"/><use href="#tg" x="840" y="466.7"/><use href="#tg" x="806.7" y="680"/><use href="#tg" x="1013" y="633"/><use href="#tg" x="1266.7" y="480"/><use href="#tg" x="533.3" y="833.3"/><use href="#tg" x="500" y="966.7"/>
</g>
<circle cx="660" cy="472.7" r="5" fill="#b4b4b4" stroke="#0000e0" stroke-width="3"/>
<circle cx="733" cy="553" r="6.5" fill="#000"/><circle cx="733" cy="553" r="1.5" fill="#fff"/>

<!-- note boxes -->
<path fill="#fff" stroke="#ffc090" stroke-width="1" d="M800 980H940L947 987V1013L940 1020H800L793 1013V987Z"/>
<path fill="#fff" stroke="#000" stroke-width="1.5" d="M1306 581H1403L1410 588V614L1403 621H1306L1306 588Z"/>

<!-- roundabout labels -->
<g font-size="7">
<text class="r" transform="rotate(-90 702 508)" x="702" y="508">A19</text><text class="r" transform="rotate(-90 708.7 508)" x="708.7" y="508">A8</text><text class="r" transform="rotate(-90 715.3 508)" x="715.3" y="508">A6</text><text class="r" transform="rotate(-90 722 508)" x="722" y="508">A11</text><text class="r" transform="rotate(-90 728.7 508)" x="728.7" y="508">A28</text><text class="r" transform="rotate(-90 735.3 508)" x="735.3" y="508">T27</text><text class="r" transform="rotate(-90 742 508)" x="742" y="508">T29</text><text class="r" transform="rotate(-90 748.7 508)" x="748.7" y="508">A16</text><text class="r" transform="rotate(-90 755.3 508)" x="755.3" y="508">A18</text><text class="r" transform="rotate(-90 762 508)" x="762" y="508">A20</text>
<text class="r" transform="rotate(-90 702 615)" x="702" y="615">A8</text><text class="r" transform="rotate(-90 708.7 615)" x="708.7" y="615">A15</text><text class="r" transform="rotate(-90 715.3 615)" x="715.3" y="615">T24</text><text class="r" transform="rotate(-90 722 615)" x="722" y="615">T13</text><text class="r" transform="rotate(-90 728.7 615)" x="728.7" y="615">T27</text><text class="r" transform="rotate(-90 735.3 615)" x="735.3" y="615">A28</text><text class="r" transform="rotate(-90 742 615)" x="742" y="615">A33</text><text class="r" transform="rotate(-90 748.7 615)" x="748.7" y="615">T9</text><text class="r" transform="rotate(-90 755.3 615)" x="755.3" y="615">T21</text><text class="r" transform="rotate(-90 762 615)" x="762" y="615">T29</text><text class="r" transform="rotate(-90 768.7 615)" x="768.7" y="615">A10</text>
<text class="r" transform="rotate(-90 695 521)" x="695" y="521">A28</text><text class="r" transform="rotate(-90 775 521)" x="775" y="521">A19</text>
<text class="r" x="672.3" y="515">A19</text><text class="r" x="672.3" y="521.7">A20</text><text class="r" x="672.3" y="528.3">A16</text><text class="r" x="672.3" y="535">A6</text><text class="r" x="672.3" y="541.7">T2</text><text class="r" x="672.3" y="548.3">T9</text><text class="r" x="672.3" y="555">T24</text><text class="r" x="672.3" y="561.7">A5</text><text class="r" x="672.3" y="575">A18</text><text class="r" x="672.3" y="581.7">A11</text><text class="r" x="672.3" y="588.3">A23</text><text class="r" x="672.3" y="595">T12</text>
<text class="r e" x="795" y="535">A15</text><text class="r e" x="795" y="541.7">T2</text><text class="r e" x="795" y="548.3">T12</text><text class="r e" x="795" y="555">T13</text><text class="r e" x="795" y="561.7">T21</text><text class="r e" x="795" y="568.3">A33</text><text class="r e" x="795" y="575">A5</text>
</g>
<text class="m" x="731.5" y="548.5">The Roundabout</text>

<!-- labels -->
<text class="e" x="570" y="55">Coastline Park</text>
<text class="e" transform="rotate(45 625 65)" x="625" y="65">"Riga" Hotel (A30)</text>
<text class="e" transform="rotate(45 704.5 70)" x="704.5" y="70">"Radost" Kindergarten</text>
<text class="e" x="505" y="121.5">"Terasata" Bar</text>
<text class="e" x="774" y="75">DKC-1</text>
<text x="811.5" y="68.5">Diagnosis-consulting Center</text><text x="831" y="75">/ UMBAL "Kanev" Hospital</text>
<text x="857" y="95">Vazata &amp; Youth Park</text><text x="1100" y="95">Rozarium</text>
<text class="e" x="770" y="108.5">House of Culture Terminus</text><text class="e" x="762" y="128.5">(A6, A8, A10, A23)</text>
<text class="e" x="628" y="141.5">CBA (Gradski Hali)</text>
<text class="e" transform="rotate(45 900 173)" x="900" y="173">Voc. School of Engineering</text>
<text class="e" transform="rotate(45 977 183)" x="977" y="183">University of Ruse - North</text>
<text class="e" transform="rotate(45 1062 184)" x="1062" y="184">Bratya Miladinovi Primary School</text>
<text class="e" transform="rotate(45 1190 176)" x="1190" y="176">Tsvetnitsa - North</text>
<text class="e" transform="rotate(45 1330.6 243)" x="1330.6" y="243">Tutrakan Overpass / Traktsiyata</text>
<text class="e" transform="rotate(45 1364 243)" x="1364" y="243">Psychiatric Clinic</text>
<text class="e" transform="rotate(45 1394 240)" x="1394" y="240">26 Tutrakan blvd. Terminus</text>
<text class="e" transform="rotate(45 1430 243)" x="1430" y="243">19 / 32 Tutrakan blvd.</text>
<text class="e" transform="rotate(45 1464 243)" x="1464" y="243">Econt Express Shipping</text>
<text class="e" transform="rotate(45 1494 240)" x="1494" y="240">Friendship Bridge Terminus (A11)</text>
<text class="e" transform="rotate(45 1537 249)" x="1537" y="249">Border Police</text>
<text class="e" transform="rotate(45 1190 309)" x="1190" y="309">Tsvetnitsa - South</text>
<text class="e" transform="rotate(45 905 316)" x="905" y="316">Purva Proleť</text>
<text class="e" transform="rotate(45 977 316)" x="977" y="316">University of Ruse - South</text>
<text transform="rotate(45 742 323)" x="742" y="323">Hospital</text>
<text transform="rotate(45 1404 283)" x="1404" y="283">(T27, T29, A12A)</text>
<text class="m" x="1505" y="173.5">Giurgiu</text><text class="ar" x="1487.4" y="174">↑</text><text class="ar" x="1522.8" y="174">↑</text>
<text x="1565" y="275">Slatina</text><text class="e" x="1535" y="335">Orgachim</text><text class="e" x="1534.7" y="401.8">ZEIM (A4)</text><text x="1565" y="475">KEROS</text><text class="e" x="1534.7" y="475">"Familia" Hotel</text><text class="e" x="1548" y="481.8">(A28)</text>
<text class="m" x="1124.7" y="306.8">Paris</text><text x="1185" y="361.8">"Tsvetnitsa" Bakery</text><text class="m" x="1065" y="383">Pliska</text>
<text x="1112" y="401.8">Block "Dobrudzha" / Tovarna Railway Stop</text><text x="1112" y="475">Dairy Kitchen</text>
<text class="e" x="1396" y="415">Razpredelitelna Railway Station Terminus</text><text x="1431.6" y="415">(A16, T13, T21, A33)</text>
<text x="1432" y="381.8">Razpredelitelna</text><text x="1405" y="388.5">Railway Station</text>
<text class="e" x="1401.5" y="455">Intercity Bus Station</text><text x="1445" y="455">Eastern Intercity</text><text class="e" x="1495.5" y="461.8">Bus Station</text>
<text class="m" x="1277" y="470">Mall Ruse</text>
<text class="e" transform="rotate(45 1264 516.7)" x="1264" y="516.7">Mall Ruse (IRIS) / Third Polyclinic</text>
<text class="e" transform="rotate(45 1323 515)" x="1323" y="515">"V.Aprilov Sch.</text>
<text class="e" transform="rotate(45 1384 516.7)" x="1384" y="516.7">AVKO / "Dunav Printery</text>
<text class="e" transform="rotate(45 1190 516.7)" x="1190" y="516.7">Substation</text>
<text class="m" x="1490" y="509">C.A.T. / Mototehnika</text><text class="m" x="1493" y="515.7">Terminus</text><text x="1475.5" y="556">(A18, A15, T2, T12)</text>
<text x="1298" y="588.5">Info for these stations may</text><text x="1298" y="595.2">differ based on sources:</text><text x="1312" y="608">- "Vasil Aprilov School"</text><text x="1312" y="615">- "Dunav Printery"</text>
<text class="m" x="1240" y="620">UMBAL "Medica"</text><text class="m" x="1240" y="627">Hospital</text>
<text class="e" x="1166" y="637">Yundola, bl. 7</text><text class="e" x="1166" y="643.5">Yundola, bl. 16</text><text x="1094" y="609">[✱4]</text>
<text x="1375" y="670">Praga sqr. Terminus (A20)</text>
<text transform="rotate(45 1225 672)" x="1225" y="672">Block "Boryana" / Block "Kremena"</text>
<text transform="rotate(45 1273 672)" x="1273" y="672">Block "Zheravi"</text>
<text x="1149" y="750">Kaseva Chesma (Kaseva Chesma North)</text><text x="1168" y="770">Obrashtalo (Kaseva Chesma Central)</text><text x="1187" y="790">Zavoya (Kaseva Chesma South)</text><text x="1205" y="810">Borovele</text><text x="1222" y="830">Akatsiite</text><text x="1273.7" y="850">Preleza Terminus (A10)</text>
<text class="e" x="561.4" y="475">Borisova</text><text class="e" transform="rotate(45 544 430)" x="544" y="430">"Strandzhata" Tavern</text>
<text class="e" x="396" y="456">Hristo Botev HS</text><text class="e" x="381.6" y="502">Chayka - West</text><text class="e" x="381.6" y="575">Chayka - East</text>
<text x="785" y="455">Sports Arena</text><text x="850" y="468.7">City Stadium</text><text x="616" y="475">Ticketing Center</text>
<text x="783.4" y="356">The Pantheon</text><text x="581.4" y="341.8">Serdika / The Pantheon</text>
<text class="m" x="985" y="430">University of Ruse</text>
<text class="e" transform="rotate(45 481 537)" x="481" y="537">Marieta Soni</text>
<text class="e" transform="rotate(45 544 536)" x="544" y="536">Voc. School of Maths</text>
<text class="e" transform="rotate(45 617 534)" x="617" y="534">SBA / Skobelev</text>
<text class="e" transform="rotate(45 827 519)" x="827" y="519">Yalta</text>
<text class="e" transform="rotate(45 905 530)" x="905" y="530">Kaufland</text>
<text class="e" transform="rotate(45 977.7 530)" x="977.7" y="530">Peter Karaminchev / Naiden Kirov</text>
<text class="e" transform="rotate(45 1051 530)" x="1051" y="530">Stif / Olymp</text>
<text transform="rotate(45 836 583)" x="836" y="583">Bricolage</text>
<text x="916" y="595">"Rusalka" k-g.</text><text x="892" y="601.8">/ O.Panov Pr.Sch.</text>
<text class="m" x="1000" y="595">Kolos</text><text x="971.7" y="601.8">/ Dunav Stadium</text>
<text x="1031.7" y="588">Olymp,</text><text x="1035" y="594.8">bl. 48/49</text>
<text x="1023" y="635">"Dunav"</text><text x="1005" y="641.8">Stadium</text>
<text x="816.7" y="628">Coop.Market</text><text x="828" y="634.8">/ ZP Prelez</text><text x="832" y="641.5">Terminus</text><text x="832.7" y="648.2">(A19, A5)</text>
<text x="778" y="661.8">Cooperative</text><text x="805.7" y="669.8">Market</text>
<text x="625" y="666.8">Block "Electron"</text><text x="631.7" y="688">Afrodita</text><text x="632.7" y="695">/ Yordan Yovkov HS</text><text x="630" y="716.8">Block 33 / 202</text>
<text class="e" x="689" y="648.5">Oborishte</text><text x="898.3" y="708.7">Block 302</text><text x="931.7" y="755.5">Block 403</text><text x="931.7" y="775.5">Block 401</text><text x="940.7" y="782.3">/ Filip Stanislavov str.</text>
<text x="856" y="761">Technopolis</text><text x="822.7" y="768.7">Pechatni Platki (PCBs)</text>
<text transform="rotate(45 856.7 823.3)" x="856.7" y="823.3">Bl.115</text>
<text transform="rotate(45 976.7 729.3)" x="976.7" y="729.3">Charodeyka Cemetery</text><text transform="rotate(45 1016.7 729.3)" x="1016.7" y="729.3">Nikolov LTD</text><text transform="rotate(45 1056.7 729.3)" x="1056.7" y="729.3">Kolev Autoservice</text><text transform="rotate(45 1096.7 729.3)" x="1096.7" y="729.3">Interrade</text>
<text transform="rotate(45 1016 670)" x="1016" y="670">Dunav Stadium</text><text transform="rotate(45 916 670)" x="916" y="670">Pästrina</text><text transform="rotate(45 1069.3 670)" x="1069.3" y="670">Bitov Kombinat</text><text x="988" y="682">[✱3]</text>
<text x="605" y="815">Central Intercity</text><text class="e" x="655" y="822">Bus Station</text>
<text class="e" x="735" y="822.5">CBA / Bl.6</text>
<text class="e" x="815" y="841.5">Block 121</text><text class="e" x="815" y="848.2">/ Mother &amp;</text><text class="e" x="815" y="855">Baby Home</text>
<text class="e" x="801.7" y="875">Izgrev</text><text class="e" x="701" y="868.9">Block 33</text><text class="e" x="748" y="875.6">/ Block 10</text>
<text class="e" x="801.7" y="901.7">Monument of</text><text x="791.7" y="908.3">Rusofilite</text>
<text class="e" x="801.7" y="928.3">Jumbo</text><text class="e" x="775" y="941.7">Jumbo Superstore</text>
<text class="e" transform="rotate(45 850.7 936.7)" x="850.7" y="936.7">Aštardzhiyka</text><text class="e" transform="rotate(45 897 936.7)" x="897" y="936.7">Nova Ploshtadka</text><text class="e" transform="rotate(45 937 936.7)" x="937" y="936.7">Fork for O.Chiflik</text>
<text x="965" y="902.5">Obraztov Chiflik Terminus (A33)</text>
<text x="778" y="975">DZS</text><text x="806.7" y="975">Zumosåhranenie</text>
<text x="792.3" y="988.5">A33 route on weekends:</text><text x="792.3" y="995.2">"Doesn't use weekday one-way segment route"</text><text x="792.3" y="1002">Instead, it runs two-way along the hollow</text><text x="792.3" y="1008.8">route from "Jumbo" to "Fork for O.Chiflik"</text><text x="792.3" y="1015.5">(via "DZS" and "Zumosåhranenie")</text>
<text x="925" y="854">Charodeyka-South Terminus</text><text x="871.7" y="862">(a.k.a. Shopping Complex)</text><text x="878" y="868.6">(A3, T9, T21, T29, A30)</text>
<text class="e" x="675" y="921.8">Druzhba 3 - Terminus</text><text x="711.7" y="921.8">(T24, T13, T27)</text>
<text x="691.7" y="1035">Druzhba 3 - Block 45 / 48 Terminus</text><text x="706.7" y="1041.7">(A4, A28, A27A, A23, A18)</text>
<text class="e" x="568.3" y="1035">Svirchev Service</text><text class="e" x="568.3" y="1001.7">54 Gotse Delchev blvd.</text><text x="485" y="1008.5">/ Irrigation Systems</text>
<text class="m" x="510" y="979.5">City Panorama</text>
<text class="e" x="555" y="935">V.Levski</text><text class="e" x="548" y="908.5">Pumping Station</text><text class="e" x="427.7" y="921.8">Malyovitsa str.</text><text class="e" x="419" y="928.5">Terminus (A11)</text>
<text transform="rotate(45 456 922.7)" x="456" y="922.7">Malyovitsa 1</text><text transform="rotate(45 496 922.7)" x="496" y="922.7">Malyovitsa 2</text>
<text transform="rotate(45 416 796.7)" x="416" y="796.7">Midiya Enos</text>
<text class="e" transform="rotate(45 455 868.3)" x="455" y="868.3">Aleko Konstantinov</text><text class="e" transform="rotate(45 490.7 870)" x="490.7" y="870">Leventa</text><text class="e" transform="rotate(45 530 870)" x="530" y="870">Verila</text>
<text class="e" x="361.6" y="861.8">Road Junction</text><text x="298.5" y="868.5">"Ohlyuva"</text>
<text x="527.3" y="801.8">A.Stamboliyski</text><text class="m" x="543.3" y="846">Central Railway Station</text>
<text x="578.3" y="755">Railway Station - Kosmos</text><text x="631" y="761.6">(Borisova str.)</text>
<text class="e" x="568.3" y="728.5">Nekrasov</text><text x="518" y="735">/ Lermontov</text><text class="e" x="568.3" y="608.5">Medical Center</text>
<text class="e" transform="rotate(45 570 663)" x="570" y="663">Orhideya</text>
<text class="m" x="685" y="780">Tsyur</text>
<text class="e" x="488" y="748.5">(A5 Terminus)</text><text class="e" x="488" y="755">Rail Stn. - West</text><text x="461" y="761.8">(Nikolaevska str.)</text>
<text x="391.5" y="681.5">26 Stefan</text><text x="398.8" y="688">Stambolov</text><text x="352" y="701.8">Leather Factory</text><text x="392" y="701.8">Stefan</text><text x="384.6" y="708.5">Stambolov</text>
<text class="e" x="355" y="748.5">ZMM</text><text class="e" x="308" y="795">Electrometal</text><text class="e" x="294.7" y="855">Dågov Bridge</text>
<text x="125" y="828">Fishing Huts</text><text x="351.7" y="961.8">Strelbishte</text><text x="351.7" y="1008.5">Rusanovo Bridge</text>
<text x="312" y="601.8">St. Ouan</text><text x="305.4" y="608.5">/ Shipbuilding HS</text><text x="318.4" y="615">(A20)</text>
<text class="e" x="141.6" y="555">City Transport</text><text x="99.5" y="561.8">Operator &amp; Depot</text>
<text class="e" transform="rotate(45 127 620)" x="127" y="620">METRO Superstore Terminus</text><text class="e" transform="rotate(45 174 620)" x="174" y="620">BOR Terminus</text><text class="e" transform="rotate(45 217.4 621.7)" x="217.4" y="621.7">Winery / Fire Brigade</text><text class="e" transform="rotate(45 257 621.7)" x="257" y="621.7">Yuta / Orgachim (Dunavska Kopriva)</text><text class="e" transform="rotate(45 297.7 622.7)" x="297.7" y="622.7">ZHITI / Fazan</text>
<text x="125" y="1055">Prista Hut</text><text x="105.3" y="1061.8">/ Old Peoples' Home</text>
<text class="e" transform="rotate(45 170.6 1110.7)" x="170.6" y="1110.7">Rail Crossing</text>
<text class="e" transform="rotate(45 237.6 1024)" x="237.6" y="1024">Sredna Kula 2</text><text class="e" transform="rotate(45 277.6 1024)" x="277.6" y="1024">Sredna Kula Central</text><text class="e" transform="rotate(45 317.6 1024)" x="317.6" y="1024">Sredna Kula 1</text>
<text x="225" y="1055">Dolapite Central</text><text x="225" y="1095">Church / H.Smirnensky School</text><text x="225" y="1135">Obrashtaloto Dolapite</text><text x="225" y="1175">Nesebar</text><text x="225" y="1215">Strelbishteto Terminus (A15)</text>
<text x="351.7" y="1055">The Triangle - Sredna Kula</text><text x="351.7" y="1095">Asphalt Base Terminus (A6)</text><text x="351.7" y="1135">Basarbovo Cemetery - Entrance / Exit</text><text x="351.7" y="1175">Basarbovo Cemetery Terminus (A8)</text>
<text x="118.4" y="1135">KPP</text><text x="118.4" y="1161.8">9th km</text><text x="18.4" y="1202">[✱1] Petrol Base</text><text x="118.4" y="1255">16th Kilometer Terminus (A16A)</text>
<text x="508" y="648">[✱2]</text>

<!-- arrows -->
<g>
<text class="ar" x="784" y="95.5">↓</text><text class="ar" x="787" y="135.5">↘</text><text class="ar" x="651.5" y="350.5">↓</text><text class="ar" x="676.4" y="435.5">←</text><text class="ar" x="778" y="448">↑</text>
<text class="ar" x="912" y="210">→</text><text class="ar" x="912" y="220">→</text><text class="ar" x="986" y="210">→</text><text class="ar" x="986" y="220">→</text><text class="ar" x="911" y="344">→</text><text class="ar" x="911" y="354">→</text><text class="ar" x="985" y="344">→</text><text class="ar" x="985" y="354">→</text><text class="ar" x="745" y="291">→</text><text class="ar" x="745" y="301">→</text><text class="ar" x="729" y="455.5">↑</text><text class="ar" x="743.7" y="455.5">↑</text>
<text class="ar" x="1297" y="195.5">←</text><text class="ar" x="1230.6" y="329">→</text><text class="ar" x="1244" y="329">→</text><text class="ar" x="1117" y="362">→</text><text class="ar" x="1064.7" y="210.5">→</text><text class="ar" x="1064.7" y="220.5">→</text><text class="ar" x="1430.6" y="522">→</text><text class="ar" x="1203.6" y="589">←</text>
<text class="ar" x="809" y="529">→</text><text class="ar" x="897" y="582">→</text><text class="ar" x="911.7" y="550">→</text><text class="ar" x="911.7" y="557">→</text><text class="ar" x="722" y="649.5">↓</text><text class="ar" x="737" y="649.5">↓</text><text class="ar" x="935.7" y="629">→</text><text class="ar" x="935.7" y="636">→</text><text class="ar" x="957" y="662">←</text><text class="ar" x="957" y="669">←</text><text class="ar" x="988" y="675.5">↗</text><text class="ar" x="996.7" y="675.5">↗</text><text class="ar" x="1090.7" y="649.5">↑</text><text class="ar" x="1091.7" y="601">↑</text>
<text class="ar" x="689" y="669">↗</text><text class="ar" x="696" y="682">↓</text><text class="ar" x="704" y="789">←</text><text class="ar" x="689" y="802">↗</text><text class="ar" x="689" y="809">→</text>
<text class="ar" x="538" y="783">←</text><text class="ar" x="563" y="809">→</text><text class="ar" x="577" y="882">←</text><text class="ar" x="502" y="755.5">↑</text><text class="ar" x="510.7" y="755.5">↑</text><text class="ar" x="369" y="769">→</text><text class="ar" x="389" y="755.5">↗</text><text class="ar" x="549" y="709">←</text><text class="ar" x="477" y="702">↓</text><text class="ar" x="477" y="682">↓</text><text class="ar" x="469" y="675">↗</text><text class="ar" x="480" y="636">↖</text><text class="ar" x="597" y="695.5">↑</text><text class="ar" x="590.7" y="775.5">←</text><text class="ar" x="590.7" y="782">↖</text><text class="ar" x="402.6" y="575.5">↑</text>
<text class="ar" x="802" y="942">→</text><text class="ar" x="802" y="949">↑</text><text class="ar" x="944" y="949">↓</text><text class="ar" x="964" y="942">→</text><text class="ar" x="117.5" y="1189">↗</text><text class="ar" x="117.5" y="1216">↗</text>
</g>

<!-- lower-right panels -->
<rect x="952" y="965" width="648" height="243" fill="#000"/>
<rect x="956" y="969" width="317" height="235" rx="5" fill="#fff"/><rect x="1278" y="969" width="340" height="235" rx="5" fill="#fff"/>
<rect x="632" y="1204" width="968" height="197" fill="#000"/>
<rect x="0" y="1397" width="1600" height="199" fill="#000"/>

<text class="m" x="1088.3" y="981.8">✦ ONE-WAY SEGMENT CLARIFICATIONS ✦</text>
<path class="a18" d="M1033.3 1020V1050L1020 1070V1103L1033.3 1123V1153"/>
<path class="a18 h" d="M1039.6 1059L1047 1066V1106.7L1039.6 1115"/><path class="hw" d="M1039.6 1059L1047 1066V1106.7L1039.6 1115"/>
<use href="#tm" x="1033.3" y="1019.5"/><use href="#s" x="1033.3" y="1046.7"/><use href="#s" x="1020" y="1080"/><use href="#s" x="1020" y="1093.3"/><use href="#s" x="1047" y="1080"/><use href="#s" x="1047" y="1093.3"/><use href="#s" x="1033.3" y="1126.7"/><use href="#tm" x="1033.3" y="1153"/>
<text x="1038.7" y="1022">C.A.T. / Mototehnika</text><text x="1038.7" y="1049">Orhideya</text><text x="1052" y="1082">Shipbuilding HS</text><text x="1052" y="1095.7">Railway Station</text><text x="1038.7" y="1128.5">Midiya Enos</text><text x="1038.7" y="1155">Druzhba 3 - Block 45 / 48</text>
<text class="e" x="1015.8" y="1082">Nekrasov</text><text class="m" x="1013" y="1088.8">[A18]</text><text class="e" x="1015.8" y="1095.5">Aleksandar</text><text class="e" x="1006" y="1102">Stamboliyski</text>
<path class="a23" d="M1194.67 993V996.7L1181.3 1015V1053L1194.67 1070V1105L1181.3 1120V1160L1194.67 1176.7V1186"/>
<path class="a23 h" d="M1200 1006.7L1207.5 1013V1051.7L1200 1061.7M1200 1112.7L1207.5 1119V1159.7L1200 1166"/><path class="hw" d="M1200 1006.7L1207.5 1013V1051.7L1200 1061.7M1200 1112.7L1207.5 1119V1159.7L1200 1166"/>
<use href="#tm" x="1194.67" y="993"/><use href="#s" x="1181.3" y="1026.7"/><use href="#s" x="1181.3" y="1040"/><use href="#s" x="1207.5" y="1026.7"/><use href="#s" x="1207.5" y="1040"/><use href="#s" x="1194.67" y="1080"/><use href="#s" x="1194.67" y="1093.3"/><use href="#s" x="1181.3" y="1133.3"/><use href="#s" x="1181.3" y="1146.7"/><use href="#s" x="1207.5" y="1133.3"/><use href="#s" x="1207.5" y="1146.7"/><use href="#s" x="1194.67" y="1180"/>
<text x="1200" y="995">House of Culture</text><text class="e" x="1176" y="1028.5">Serdika</text><text class="e" x="1180" y="1035">[A23]</text><text class="e" x="1176" y="1041.8">SBA</text><text x="1212.5" y="1028.5">"Riga" Hotel</text><text x="1212.5" y="1041.8">Borisova</text><text x="1200" y="1082">Medical Center</text><text x="1200" y="1095">Railway Station</text>
<text class="e" x="1148.7" y="1128.5">Aleksandar</text><text class="e" x="1176" y="1135">Stamboliyski</text><text class="e" x="1180" y="1141.8">[A23]</text><text class="e" x="1176" y="1148.5">Vasil Levski</text><text x="1212.5" y="1135">Tsyur</text><text x="1212.5" y="1148.5">PCBs</text><text x="1200" y="1182">CBA / Block 6</text>
<g><text class="ar" x="1010" y="1068">↓</text><text class="ar" x="1034.5" y="1068">↖</text><text class="ar" x="1010" y="1108">↘</text><text class="ar" x="1034.5" y="1108">↑</text><text class="ar" x="1170" y="1015">↓</text><text class="ar" x="1195" y="1015">↖</text><text class="ar" x="1170" y="1055">↘</text><text class="ar" x="1195" y="1055">↑</text><text class="ar" x="1177" y="1095">↑</text><text class="ar" x="1170" y="1122">↓</text><text class="ar" x="1195" y="1122">↖</text><text class="ar" x="1170" y="1162">↘</text><text class="ar" x="1195" y="1162">↑</text></g>

<text class="m" x="1399" y="981.8">✱ CITATIONS ✱</text>
<path class="a16" stroke-width="5" stroke-linecap="round" d="M1341.7 980V1080"/>
<path class="a16 h" d="M1348 992L1361.7 1006V1060L1348 1073"/><path class="hw" d="M1348 992L1361.7 1006V1060L1348 1073"/>
<use href="#s" x="1341.7" y="986.7"/><use href="#tm" x="1341.7" y="1080"/><use href="#s" x="1361.7" y="1006.7"/><use href="#s" x="1361.7" y="1020"/><use href="#s" x="1361.7" y="1033.3"/><use href="#s" x="1361.7" y="1046.7"/><use href="#s" x="1361.7" y="1060"/>
<text x="1347" y="989">9th km</text><text x="1347" y="1082">16th km</text><text x="1367" y="1009">Petrol Base - North</text><text x="1367" y="1022.2">Petrol Base Central - North</text><text x="1367" y="1035.5">Petrol Base - Oil Detail [✱1]</text><text x="1415" y="1035.5">[A16]</text><text x="1367" y="1049">Petrol Base Central - South</text><text x="1367" y="1062.2">Petrol Base - South</text>
<path class="a8" stroke-linecap="round" d="M1515.8 980V990L1502.9 1006.7V1046.7L1515.8 1060V1086"/>
<path class="a8 h" d="M1521 998L1530 1006.7V1045L1521 1055"/><path class="hw" d="M1521 998L1530 1006.7V1045L1521 1055"/>
<use href="#s" x="1515.8" y="986"/><use href="#s" x="1502.9" y="1026.7"/><use href="#s" x="1529.5" y="1020"/><use href="#s" x="1529.5" y="1033.3"/><use href="#s" x="1515.8" y="1066.7"/><use href="#s" x="1515.8" y="1080"/>
<text x="1521.7" y="988.5">Oborishte (Market)</text><text class="e" x="1498" y="1028.8">Bl.33 / 202</text><text x="1534.6" y="1022">Block "Electron"</text><text x="1532.5" y="1028.8">[A8]</text><text x="1534.6" y="1035.5">Orhideya</text><text x="1521.7" y="1068.8">[✱2] Aksakov</text><text x="1521.7" y="1082">St. Ouan</text>
<path class="a5" d="M1341.7 1098V1116.7L1329 1130V1166.7L1341.7 1176.7V1204"/><path class="a30" d="M1349 1098V1116.7L1336.7 1130V1166.7L1349 1176.7V1204"/>
<path class="a5 h" d="M1348 1118L1357.5 1126.7V1166L1348 1175"/><path class="hw" d="M1348 1118L1357.5 1126.7V1166L1348 1175"/><path class="a30 h" d="M1353 1118L1364.6 1126.7V1166L1353 1175"/><path class="hw" d="M1353 1118L1364.6 1126.7V1166L1353 1175"/>
<g class="c"><rect x="1338.7" y="1102.7" width="13.3" height="6.6" rx="3.3"/><rect x="1325" y="1136" width="13.3" height="6.6" rx="3.3"/><rect x="1325" y="1149.7" width="13.3" height="6.6" rx="3.3"/><rect x="1352" y="1136" width="13.3" height="6.6" rx="3.3"/><rect x="1352" y="1149.7" width="13.3" height="6.6" rx="3.3"/><rect x="1338.7" y="1182.7" width="13.3" height="6.6" rx="3.3"/></g>
<text x="1353.7" y="1108">Dunav Stadium</text><text x="1377" y="1128.5">[A5 &amp; A30]</text><text class="e" x="1323.7" y="1141.8">Petrohan 39</text><text class="e" x="1323.7" y="1155">Pästrina</text><text x="1367.5" y="1141.8">Block "Borimechka"</text><text x="1366.7" y="1148.5">✱3]</text><text x="1367.5" y="1155">Olimpi Panov Pr.Sch.</text><text x="1353.7" y="1188">Cooperative Market</text>
<path class="a30" d="M1515.8 1098V1116L1503 1133V1166L1515.8 1176V1190"/>
<path class="a30 h" d="M1521 1118L1530 1126.7V1166L1521 1175"/><path class="hw" d="M1521 1118L1530 1126.7V1166L1521 1175"/>
<use href="#s" x="1515.8" y="1106"/><use href="#s" x="1503" y="1139.3"/><use href="#s" x="1503" y="1153"/><use href="#s" x="1529.5" y="1146.7"/><use href="#s" x="1515.8" y="1186"/>
<text x="1521.7" y="1108">Dairy Kitchen</text><text class="e" x="1498" y="1141.8">Yundola, bl. 7</text><text class="e" x="1502" y="1148.5">[A30]</text><text class="e" x="1498" y="1155">Yundola, bl. 16</text><text x="1534.6" y="1148.5">Zdravets Market</text><text x="1537.5" y="1141.8">[✱4]</text><text x="1521.7" y="1188">Bitov Kombinat</text>
<g><text class="ar" x="1341" y="1128">↓</text><text class="ar" x="1367" y="1128">↖</text><text class="ar" x="1341" y="1168">↘</text><text class="ar" x="1367" y="1168">↑</text><text class="ar" x="1492" y="1128">↓</text><text class="ar" x="1517" y="1128">↖</text><text class="ar" x="1492" y="1168">↘</text><text class="ar" x="1517" y="1168">↑</text><text class="ar" x="1492" y="1015">↓</text><text class="ar" x="1517" y="1015">↖</text><text class="ar" x="1492" y="1055">↘</text><text class="ar" x="1517" y="1055">↑</text><text class="ar" x="1499" y="1068">↓</text><text class="ar" x="1333" y="1015">↑</text><text class="ar" x="1333" y="1068">↑</text><text class="ar" x="1352" y="1012">↘</text><text class="ar" x="1352" y="1068">↗</text></g>

<!-- Row 1 cards -->
<g fill="#fff">
<rect x="635" y="1208" width="101.5" height="189" rx="5"/><rect x="741.5" y="1208" width="101.5" height="189" rx="5"/><rect x="848" y="1208" width="101.5" height="189" rx="5"/><rect x="954.5" y="1208" width="101.5" height="189" rx="5"/><rect x="1061" y="1208" width="101.5" height="189" rx="5"/><rect x="1167.5" y="1208" width="101.5" height="189" rx="5"/><rect x="1274" y="1208" width="101.5" height="189" rx="5"/><rect x="1380.5" y="1208" width="101.5" height="189" rx="5"/><rect x="1487" y="1208" width="125" height="189" rx="5"/>
<rect x="-10" y="1402" width="107" height="189" rx="5"/><rect x="102.5" y="1402" width="101.5" height="189" rx="5"/><rect x="209" y="1402" width="101.5" height="189" rx="5"/><rect x="315.5" y="1402" width="101.5" height="189" rx="5"/><rect x="422" y="1402" width="101.5" height="189" rx="5"/><rect x="528.5" y="1402" width="101.5" height="189" rx="5"/><rect x="635" y="1402" width="101.5" height="189" rx="5"/><rect x="741.5" y="1402" width="101.5" height="189" rx="5"/><rect x="848" y="1402" width="101.5" height="189" rx="5"/><rect x="954.5" y="1402" width="101.5" height="189" rx="5"/><rect x="1061" y="1402" width="101.5" height="189" rx="5"/><rect x="1167.5" y="1402" width="101.5" height="189" rx="5"/><rect x="1274" y="1402" width="101.5" height="189" rx="5"/><rect x="1380.5" y="1402" width="101.5" height="189" rx="5"/><rect x="1487" y="1402" width="125" height="189" rx="5"/>
</g>

<g transform="translate(635 0)"><text class="big" x="51" y="1255" style="color:#e8b4e8">2</text><path stroke="#fbeffb" stroke-width="3.5" d="M18.5 1273V1380"/><path class="a2" stroke-width="3.5" stroke-dasharray="11.67 11.67" d="M18.5 1273V1380"/><use href="#r1"/><text x="25" y="1275">BOR Terminus</text><text x="25" y="1301.8">SBA / Skobelev</text><text x="25" y="1328.5">Yalta / Bricolage</text><text x="25" y="1355.2">Substation</text><text x="25" y="1382">C.A.T. / Mototehnika</text></g>
<g transform="translate(741.5 0)"><text class="big" x="51" y="1255" style="color:#ffdd14">3</text><path class="a3" stroke-width="3.5" d="M18.5 1273V1380"/><use href="#r1"/><text x="25" y="1275">Charodeyka-South</text><text x="25" y="1301.8">Pumping Station</text><text x="25" y="1328.5">Railway Station - West</text><text x="25" y="1355.2">St. Ouan</text><text x="25" y="1382">METRO Superstore</text></g>
<g transform="translate(848 0)"><text class="big" x="51" y="1255" style="color:#00a651">4</text><path class="a4" stroke-width="3.5" d="M18.5 1273V1380"/><use href="#r1"/><text x="25" y="1275">Druzhba 3 - Bl. 45 / 48</text><text x="25" y="1301.8">Charodeyka-South</text><text x="25" y="1328.5">Cooperative Market</text><text x="25" y="1355.2">Dairy Kitchen</text><text x="25" y="1382">ZEIM ("Bulgaria" blvd.)</text></g>
<g transform="translate(954.5 0)"><text class="big" x="51" y="1255" style="color:#ffab4a">5</text><path class="a5" stroke-width="3.5" d="M18.5 1273V1380"/><use href="#r1"/><text x="25" y="1275">Railway Station - West</text><text x="25" y="1301.8">St. Ouan</text><text x="25" y="1328.5">SBA / Skobelev</text><text x="25" y="1355.2">Substation</text><text x="25" y="1382">Cooperative Market</text></g>
<g transform="translate(1061 0)"><text class="big" x="51" y="1255" style="color:#536a94">6</text><path class="a6" stroke-width="3.5" d="M18.5 1273V1380"/><use href="#r1"/><text x="25" y="1275">Asphalt Base Terminus</text><text x="25" y="1301.8">Sredna Kula &amp; Dolapite</text><text x="25" y="1328.5">BOR Terminus</text><text x="25" y="1355.2">SBA / Skobelev</text><text x="25" y="1382">House of Culture</text></g>
<g transform="translate(1167.5 0)"><text class="big" x="51" y="1255" style="color:#7fd9e0">8</text><path class="a8" stroke-width="3.5" d="M18.5 1273V1380"/><use href="#r1"/><text x="25" y="1275">Basarbovo Cemetery</text><text x="25" y="1301.8">Sredna Kula</text><text x="25" y="1328.5">St. Ouan</text><text x="25" y="1355.2">Oborishte / Market</text><text x="25" y="1382">House of Culture</text></g>
<g transform="translate(1274 0)"><text class="big" x="51" y="1255" style="color:#00a651">9</text><path stroke="#d6f0e2" stroke-width="3.5" d="M18.5 1273V1380"/><path class="a4" stroke-width="3.5" stroke-dasharray="11.67 11.67" d="M18.5 1273V1380"/><use href="#r1"/><text x="25" y="1275">BOR Terminus</text><text x="25" y="1301.8">SBA / Skobelev</text><text x="25" y="1328.5">Oborishte</text><text class="ar" x="68" y="1328.5">↓</text><text x="25" y="1355.2">Technopolis / PCBs</text><text x="25" y="1382">Charodeyka-South</text></g>
<g transform="translate(1380.5 0)"><text class="big" x="51" y="1255" textLength="74" style="color:#e0148c">10</text><path class="a10" stroke-width="3.5" d="M18.5 1273V1380"/><use href="#r1"/><text x="25" y="1275">House of Culture</text><text x="25" y="1301.8">Oborishte / Arena</text><text x="25" y="1328.5">Technopolis / PCBs</text><text x="25" y="1355.2">Charodeyka-North</text><text x="25" y="1382">Kaseva Chesma</text></g>
<g transform="translate(1487 0)"><text class="big" x="51" y="1255" textLength="74" style="color:#aa1ea0">11</text><path class="a11" stroke-width="3.5" d="M18.5 1273V1380"/><use href="#r1"/><text x="25" y="1275">Malyovitsa str.</text><text x="25" y="1301.8">Railway Station - East</text><text x="25" y="1328.5">SBA / Skobelev</text><text x="25" y="1355.2">University of Ruse</text><text x="25" y="1382">Friendship Bridge</text></g>

<!-- Row 2 cards -->
<g transform="translate(-4.2 0)"><text class="big" x="51" y="1448" textLength="74" style="color:#3a5a00">12</text><path class="a12" stroke-width="3.5" d="M17.5 1466V1546"/><path class="a12" stroke-width="3.5" stroke-dasharray="4 4" d="M17.5 1550V1572"/><use href="#tm" x="17.5" y="1466"/><use href="#s" x="17.5" y="1486"/><use href="#s" x="17.5" y="1506"/><use href="#s" x="17.5" y="1526"/><use href="#tm" x="17.5" y="1546"/><use href="#tm" x="17.5" y="1572.7"/><text x="23" y="1468.5">Railway Station - East</text><text x="23" y="1488.5">SBA / Skobelev</text><text x="23" y="1508.5">Yalta / Bricolage</text><text x="23" y="1528.5">Substation</text><text x="23" y="1548.5">C.A.T. / Mototehnika</text><text x="23" y="1575.2">26 Tutrakan blvd.</text></g>
<g transform="translate(102.5 0)"><text class="big" x="51" y="1448" textLength="74" style="color:#1e4fa8">13</text><path stroke="#dbe4f4" stroke-width="3.5" d="M17.5 1466V1573"/><path class="a13" stroke-width="3.5" stroke-dasharray="11.67 11.67" d="M17.5 1466V1573"/><use href="#r2"/><text x="23" y="1468.5">Druzhba 3 - Terminus</text><text x="23" y="1495.2">Technopolis / PCBs</text><text x="23" y="1521.8">Oborishte / Bricolage</text><text x="23" y="1548.5">Substation</text><text x="23" y="1575.2">Razpredelitelna</text><text x="37" y="1582">Railway Station</text></g>
<g transform="translate(209 0)"><text class="big" x="51" y="1448" textLength="74" style="color:#a65a42">15</text><path class="a15" stroke-width="3.5" d="M17.5 1466V1573"/><use href="#r2"/><text x="23" y="1468.5">Sredna Kula &amp; Dolapite</text><text x="23" y="1495.2">Railway Station</text><text x="23" y="1521.8">Oborishte / Bricolage</text><text x="23" y="1548.5">Substation</text><text x="23" y="1575.2">C.A.T. / Mototehnika</text></g>
<g transform="translate(315.5 0)"><text class="big" x="51" y="1448" textLength="74" style="color:#000">16</text><path class="a16" stroke-width="3.5" stroke-dasharray="4 4" d="M17.5 1470V1492"/><path class="a16" stroke-width="3.5" d="M17.5 1493V1573"/><use href="#r3"/><text x="23" y="1468.5">16th km Terminus</text><text x="23" y="1495.2">METRO Superstore</text><text x="23" y="1515.2">SBA / Skobelev</text><text x="23" y="1535.2">University of Ruse</text><text x="23" y="1555.2">Substation</text><text x="23" y="1575.2">Razpredelitelna</text><text x="37" y="1582">Railway Station</text></g>
<g transform="translate(422 0)"><text class="big" x="51" y="1448" textLength="74" style="color:#b8d800">18</text><path class="a18" stroke-width="3.5" d="M17.5 1466V1573"/><use href="#r2"/><text x="23" y="1468.5">Druzhba 3 - Bl. 45 / 48</text><text x="23" y="1495.2">Railway Station</text><text x="23" y="1521.8">University of Ruse</text><text x="23" y="1548.5">Substation</text><text x="23" y="1575.2">C.A.T. / Mototehnika</text></g>
<g transform="translate(528.5 0)"><text class="big" x="51" y="1448" textLength="74" style="color:#4a8a78">19</text><path class="a19" stroke-width="3.5" d="M17.5 1466V1573"/><use href="#r2"/><text x="23" y="1468.5">METRO Superstore</text><text x="23" y="1495.2">SBA / Skobelev</text><text x="23" y="1521.8">University of Ruse</text><text x="23" y="1548.5">Dairy Kitchen</text><text x="23" y="1575.2">Cooperative Market</text></g>
<g transform="translate(635 0)"><text class="big" x="51" y="1448" textLength="74" style="color:#ee2233">20</text><path class="a20" stroke-width="3.5" d="M17.5 1466V1573"/><use href="#r2"/><text x="23" y="1468.5">St. Ouan</text><text x="37" y="1475.2">/ Shipbuilding HS</text><text x="23" y="1495.2">SBA / Skobelev</text><text x="23" y="1521.8">University of Ruse</text><text x="23" y="1548.5">Substation</text><text x="23" y="1575.2">Praga sqr. Terminus</text></g>
<g transform="translate(741.5 0)"><text class="big" x="51" y="1448" textLength="74" style="color:#66e01e">21</text><path stroke="#e4fbd8" stroke-width="3.5" d="M17.5 1466V1573"/><path class="a21" stroke-width="3.5" stroke-dasharray="11.67 11.67" d="M17.5 1466V1573"/><use href="#r2"/><text x="23" y="1468.5">Charodeyka-South</text><text x="23" y="1495.2">Technopolis / PCBs</text><text x="23" y="1521.8">Oborishte / Bricolage</text><text x="23" y="1548.5">Substation</text><text x="23" y="1575.2">Razpredelitelna</text><text x="37" y="1582">Railway Station</text></g>
<g transform="translate(848 0)"><text class="big" x="51" y="1448" textLength="74" style="color:#cc80c8">23</text><path class="a23" stroke-width="3.5" d="M17.5 1466V1573"/><use href="#r2"/><text x="23" y="1468.5">Druzhba 3 - Bl. 45 / 48</text><text x="23" y="1495.2">↓ PCBs | ↑ Ohlyuva</text><text x="23" y="1521.8">Railway Station</text><text x="23" y="1548.5">SBA / Medical Center</text><text x="23" y="1575.2">House of Culture</text></g>
<g transform="translate(954.5 0)"><text class="big" x="51" y="1448" textLength="74" style="color:#3590b0">24</text><path stroke="#dcecf2" stroke-width="3.5" d="M17.5 1466V1573"/><path class="a24" stroke-width="3.5" stroke-dasharray="11.67 11.67" d="M17.5 1466V1573"/><use href="#r2"/><text x="23" y="1468.5">BOR Terminus</text><text x="23" y="1495.2">SBA / Skobelev</text><text x="23" y="1521.8">Oborishte</text><text class="ar" x="67" y="1521.8">↓</text><text x="23" y="1548.5">Technopolis / PCBs</text><text x="23" y="1575.2">Druzhba 3 - Terminus</text></g>
<g transform="translate(1061 0)"><text class="big" x="51" y="1448" textLength="74" style="color:#b8b86e">27</text><path class="a27" stroke-width="3.5" stroke-dasharray="4 4" d="M17.5 1470V1492"/><path stroke="#f0f0dc" stroke-width="3.5" d="M17.5 1493V1573"/><path class="a27" stroke-width="3.5" stroke-dasharray="11.67 11.67" d="M17.5 1493V1573"/><use href="#r3"/><text x="23" y="1468.5">Druzhba 3 - Bl. 45 / 48</text><text x="23" y="1495.2">Druzhba 3 - Terminus</text><text x="23" y="1515.2">Technopolis / PCBs</text><text x="23" y="1535.2">Oborishte / Arena</text><text x="23" y="1555.2">University of Ruse</text><text x="23" y="1575.2">26 Tutrakan blvd.</text><text x="43" y="1582">(Sugar Factory)</text></g>
<g transform="translate(1167.5 0)"><text class="big" x="51" y="1448" textLength="74" style="color:#3c2a98">28</text><path class="a28" stroke-width="3.5" d="M17.5 1466V1573"/><use href="#r2"/><text x="23" y="1468.5">Druzhba 3 - Bl. 45 / 48</text><text x="23" y="1495.2">Technopolis / PCBs</text><text x="23" y="1521.8">Oborishte / Arena</text><text x="23" y="1548.5">26 Tutrakan blvd.</text><text x="23" y="1575.2">KEROS (Industry Park)</text></g>
<g transform="translate(1274 0)"><text class="big" x="51" y="1448" textLength="74" style="color:#8090d0">29</text><path stroke="#e4e8f6" stroke-width="3.5" d="M17.5 1466V1573"/><path class="a29" stroke-width="3.5" stroke-dasharray="11.67 11.67" d="M17.5 1466V1573"/><use href="#r2"/><text x="23" y="1468.5">Charodeyka-South</text><text x="23" y="1495.2">Technopolis / PCBs</text><text x="23" y="1521.8">Oborishte / Arena</text><text x="23" y="1548.5">University of Ruse</text><text x="23" y="1575.2">26 Tutrakan blvd.</text><text x="43" y="1582">(Sugar Factory)</text></g>
<g transform="translate(1380.5 0)"><text class="big" x="51" y="1448" textLength="74" style="color:#0099d8">30</text><path class="a30" stroke-width="3.5" d="M17.5 1466V1573"/><use href="#r2"/><text x="23" y="1468.5">"Riga" Hotel</text><text x="23" y="1495.2">University of Ruse</text><text x="23" y="1521.8">Dairy Kitchen</text><text x="23" y="1548.5">Cooperative Market</text><text x="23" y="1575.2">Charodeyka-South</text></g>
<g transform="translate(1487 0)"><text class="big" x="51" y="1448" textLength="74" style="color:#ff8833">33</text><path class="a33" stroke-width="3.5" d="M17.5 1466V1573"/><use href="#r2"/><text x="23" y="1468.5">Obrastzov Chiflik</text><text x="23" y="1495.2">Technopolis / PCBs</text><text x="23" y="1521.8">Oborishte / Bricolage</text><text x="23" y="1548.5">Substation</text></g>
</svg>
</body></html>
